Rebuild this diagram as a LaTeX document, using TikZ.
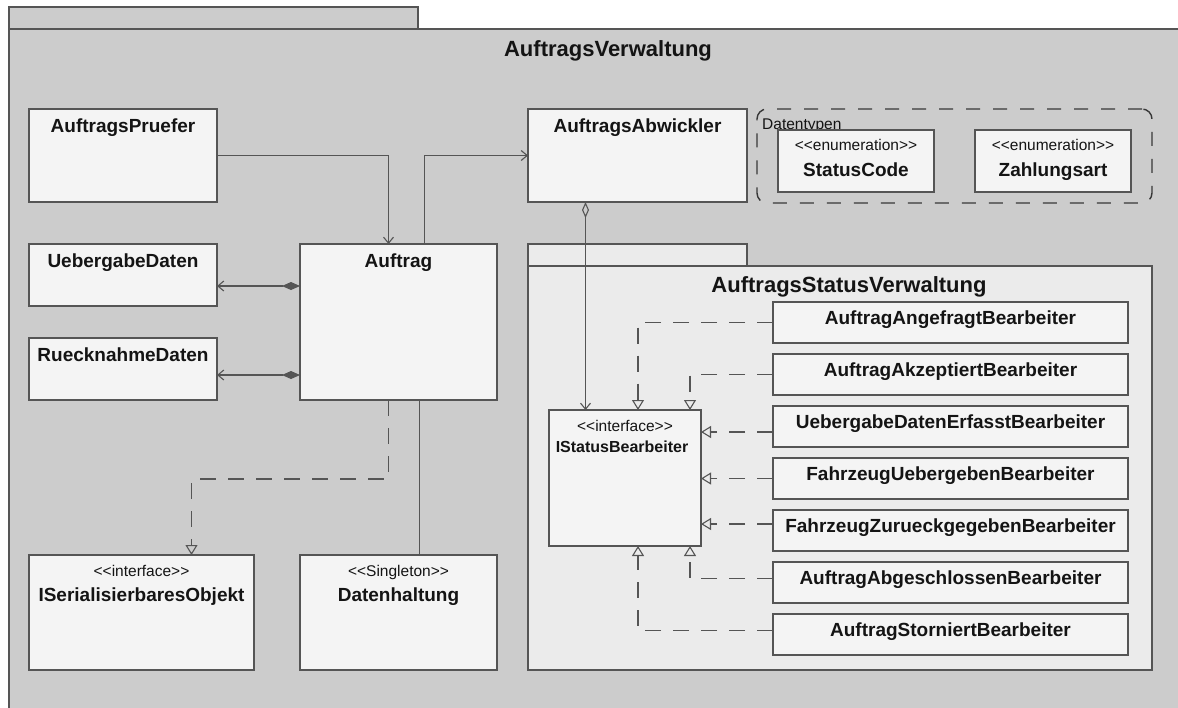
\documentclass[tikz,border=0pt]{standalone}
\usepackage{fontspec}
\setmainfont{Liberation Sans}
\usetikzlibrary{arrows.meta,calc,fit}

\definecolor{pkgbg}{RGB}{204,204,204}
\definecolor{innerbg}{RGB}{235,235,235}
\definecolor{boxbg}{RGB}{244,244,244}
\definecolor{edgecol}{RGB}{85,85,85}
\definecolor{inkcol}{RGB}{20,20,20}

% stereotype brackets, kept apart so they do not merge into guillemets
\newcommand{\stlt}{{<}{<}}
\newcommand{\stgt}{{>}{>}}

\tikzset{
  pkg/.style={draw=edgecol, line width=1.3pt, inner sep=0pt, outer sep=0pt},
  cls/.style={draw=edgecol, fill=boxbg, line width=1.3pt, inner sep=0pt, outer sep=0pt},
  cname/.style={font=\fontsize{19}{22}\selectfont\bfseries, text=inkcol, inner sep=0pt, anchor=base},
  sname/.style={font=\fontsize{16}{19}\selectfont\bfseries, text=inkcol, inner sep=0pt, anchor=base},
  stereo/.style={font=\fontsize{15.5}{19}\selectfont, text=inkcol, inner sep=0pt, anchor=base},
  ptitle/.style={font=\fontsize{22}{26}\selectfont\bfseries, text=inkcol, inner sep=0pt, anchor=base},
  conn/.style={draw=edgecol, line width=1.1pt},
  assoc/.style={conn, -{Straight Barb[length=6pt,width=10pt,line width=1.1pt]}},
  comp/.style={conn, {Diamond[length=18pt,width=8pt,fill=edgecol]}-{Straight Barb[length=6pt,width=10pt,line width=1.1pt]}},
  aggr/.style={conn, {Diamond[open,length=16pt,width=7pt,line width=1.1pt]}-{Straight Barb[length=6pt,width=10pt,line width=1.1pt]}},
  real/.style={conn, dash pattern=on 16pt off 12pt, -{Triangle[open,length=10pt,width=12pt,line width=1.1pt]}},
}

\begin{document}
\begin{tikzpicture}[x=1pt,y=-1pt]
\useasboundingbox (0,0) rectangle (1178,707);
\clip (0,0) rectangle (1178,707);
\fill[white] (0,0) rectangle (1178,707);

% outer package AuftragsVerwaltung
\node[pkg, fill=pkgbg, fit={(9,7) (418,29)}] (outertab) {};
\node[pkg, fill=pkgbg, fit={(9,29) (1215,730)}] (outerpkg) {};
\node[ptitle] (outertitle) at (608,56) {AuftragsVerwaltung};

% left column classes
\node[cls, fit={(29,109) (217,202)}] (pruefer) {};
\node[cname] (prueferT) at ($(pruefer.north)+(0,23)$) {AuftragsPruefer};

\node[cls, fit={(29,244) (217,306)}] (ueber) {};
\node[cname] (ueberT) at ($(ueber.north)+(0,23)$) {UebergabeDaten};

\node[cls, fit={(29,338) (217,400)}] (rueck) {};
\node[cname] (rueckT) at ($(rueck.north)+(0,23)$) {RuecknahmeDaten};

\node[cls, fit={(300,244) (497,400)}] (auftrag) {};
\node[cname] (auftragT) at ($(auftrag.north)+(0,23)$) {Auftrag};

\node[cls, fit={(29,555) (254,670)}] (ser) {};
\node[stereo] (serS) at ($(ser.north)+(0,21)$) {\stlt interface\stgt};
\node[cname] (serT) at ($(ser.north)+(0,46.5)$) {ISerialisierbaresObjekt};

\node[cls, fit={(300,555) (497,670)}] (datenh) {};
\node[stereo] (datenhS) at ($(datenh.north)+(0,21)$) {\stlt Singleton\stgt};
\node[cname] (datenhT) at ($(datenh.north)+(0,46.5)$) {Datenhaltung};

\node[cls, fit={(528,109) (747,202)}] (abw) {};
\node[cname] (abwT) at ($(abw.north)+(0,23)$) {AuftragsAbwickler};

% data types group
\node[draw=inkcol!85, line width=1.4pt, dash pattern=on 14pt off 13pt, rounded corners=10pt,
      inner sep=0pt, outer sep=0pt, fit={(757,109) (1152,203)}] (datentypen) {};
\node[stereo, anchor=base west] (datentypenT) at (762,129) {Datentypen};

\node[cls, fit={(778,130) (934,192)}] (statuscode) {};
\node[stereo] (statuscodeS) at ($(statuscode.north)+(0,20)$) {\stlt enumeration\stgt};
\node[cname] (statuscodeT) at ($(statuscode.north)+(0,46)$) {StatusCode};

\node[cls, fit={(975,130) (1131,192)}] (zahlung) {};
\node[stereo] (zahlungS) at ($(zahlung.north)+(0,20)$) {\stlt enumeration\stgt};
\node[cname] (zahlungT) at ($(zahlung.north)+(0,46)$) {Zahlungsart};

% inner package AuftragsStatusVerwaltung
\node[pkg, fill=innerbg, fit={(528,244) (747,266)}] (innertab) {};
\node[pkg, fill=innerbg, fit={(528,266) (1152,670)}] (innerpkg) {};
\node[ptitle] (innertitle) at (849,292.5) {AuftragsStatusVerwaltung};

\node[cls, fit={(549,410) (701,546)}] (istatus) {};
\node[stereo] (istatusS) at ($(istatus.north)+(0,21)$) {\stlt interface\stgt};
\node[sname] (istatusT) at ($(istatus.north)+(-3,42.5)$) {IStatusBearbeiter};

\node[cls, fit={(773,302) (1128,343)}] (ang) {};
\node[cname] (angT) at ($(ang.north)+(0,22.5)$) {AuftragAngefragtBearbeiter};
\node[cls, fit={(773,354) (1128,395)}] (akz) {};
\node[cname] (akzT) at ($(akz.north)+(0,22.5)$) {AuftragAkzeptiertBearbeiter};
\node[cls, fit={(773,406) (1128,447)}] (ueb) {};
\node[cname] (uebT) at ($(ueb.north)+(0,22.5)$) {UebergabeDatenErfasstBearbeiter};
\node[cls, fit={(773,458) (1128,499)}] (fu) {};
\node[cname] (fuT) at ($(fu.north)+(0,22.5)$) {FahrzeugUebergebenBearbeiter};
\node[cls, fit={(773,510) (1128,551)}] (fz) {};
\node[cname] (fzT) at ($(fz.north)+(0,22.5)$) {FahrzeugZurueckgegebenBearbeiter};
\node[cls, fit={(773,562) (1128,603)}] (abg) {};
\node[cname] (abgT) at ($(abg.north)+(0,22.5)$) {AuftragAbgeschlossenBearbeiter};
\node[cls, fit={(773,614) (1128,655)}] (sto) {};
\node[cname] (stoT) at ($(sto.north)+(0,22.5)$) {AuftragStorniertBearbeiter};

% associations around Auftrag
\draw[assoc] (pruefer.east) -| ($(auftrag.north)+(-10,0)$);
\draw[assoc] ($(auftrag.north)+(26,0)$) |- (abw.west);

\coordinate (c1) at ($(auftrag.north west)+(0,42)$);
\draw[comp] (c1) -- (c1 -| ueber.east);
\coordinate (c2) at ($(auftrag.north west)+(0,131)$);
\draw[comp] (c2) -- (c2 -| rueck.east);

\draw[real] ($(auftrag.south)+(-10,0)$) -- ++(0,79) -| ($(ser.north)+(50,0)$);
\draw[conn] ($(auftrag.south)+(21,0)$) -- ($(datenh.north)+(21,0)$);

% aggregation to the status handler interface
\coordinate (aggtop) at ($(abw.south)+(-52,0)$);
\draw[aggr] (aggtop) -- (aggtop |- istatus.north);

% realizations of IStatusBearbeiter
\draw[real] (ang.west) -| ($(istatus.north)+(13,0)$);
\draw[real] (akz.west) -| ($(istatus.north)+(65,0)$);
\coordinate (r3) at ($(istatus.north east)+(0,22)$);
\draw[real] (r3 -| ueb.west) -- (r3);
\draw[real] (fu.west) -- (fu.west -| istatus.east);
\coordinate (r5) at ($(istatus.north east)+(0,114)$);
\draw[real] (r5 -| fz.west) -- (r5);
\draw[real] ($(abg.west)+(0,-4)$) -| ($(istatus.south)+(65,0)$);
\draw[real] ($(sto.west)+(0,-4)$) -| ($(istatus.south)+(13,0)$);
\end{tikzpicture}
\end{document}
